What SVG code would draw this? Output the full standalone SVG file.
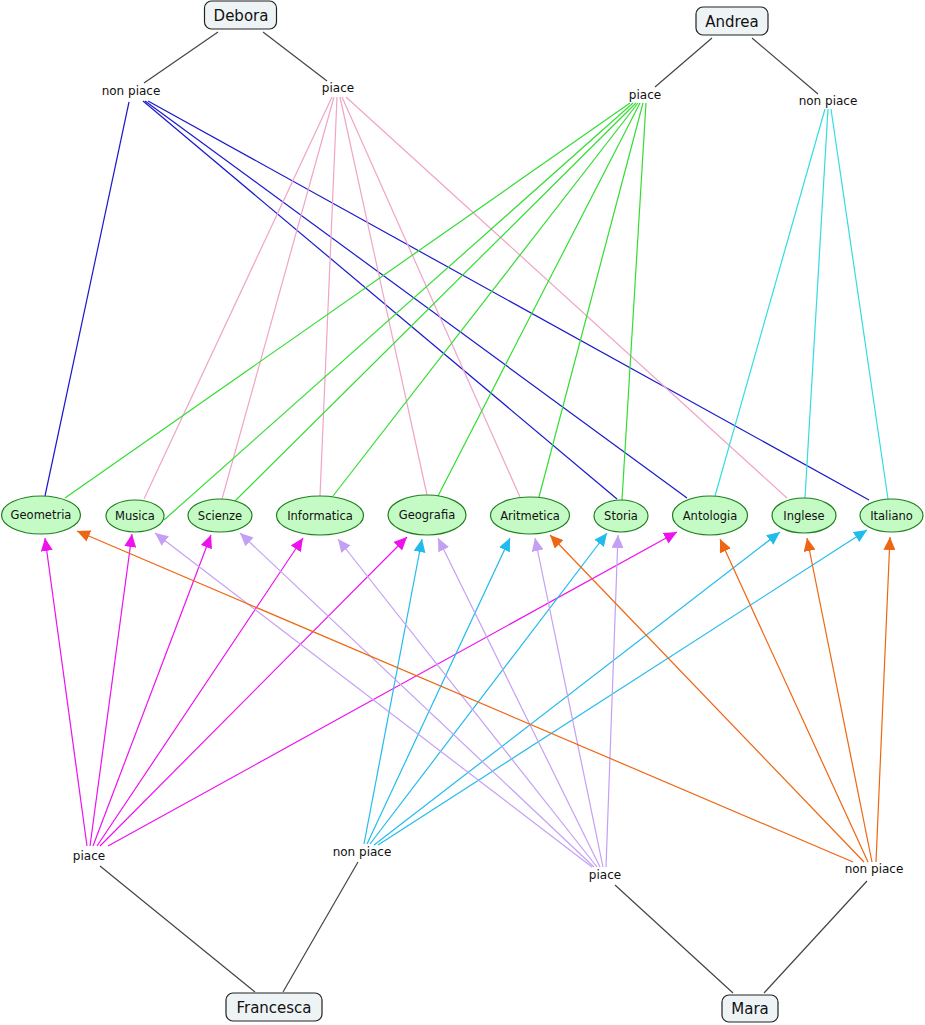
<svg xmlns="http://www.w3.org/2000/svg" width="925" height="1025" viewBox="0 0 925 1025">
<style>
.bg{fill:#ffffff}
.person rect{fill:#eef4f5;stroke:#222;stroke-width:1.2}
.person text{font-family:"DejaVu Sans",Verdana,sans-serif;font-size:15px;fill:#111;text-anchor:middle}
.subj ellipse{fill:#c4fbc4;stroke:#1e7f1e;stroke-width:1.2}
.subj text{font-family:"DejaVu Sans",Verdana,sans-serif;font-size:11.5px;fill:#111;text-anchor:middle}
.lbl text{font-family:"DejaVu Sans",Verdana,sans-serif;font-size:12px;fill:#111;text-anchor:middle}
.k{stroke:#444;stroke-width:1.2;fill:none}
.blue{stroke:#1a1acc;stroke-width:1.2}
.pink{stroke:#f0a4c8;stroke-width:1.2}
.green{stroke:#33dd33;stroke-width:1.2}
.cyt{stroke:#33dde0;stroke-width:1.2}
.mag{stroke:#ee11ee;stroke-width:1.2;marker-end:url(#aMag)}
.cyb{stroke:#22bbee;stroke-width:1.2;marker-end:url(#aCyb)}
.lav{stroke:#c4a0f4;stroke-width:1.2;marker-end:url(#aLav)}
.ora{stroke:#ee6611;stroke-width:1.2;marker-end:url(#aOra)}
</style>
<defs>
<marker id="aMag" markerUnits="userSpaceOnUse" markerWidth="14" markerHeight="12" viewBox="0 0 14 12" refX="13" refY="6" orient="auto"><path d="M0,0 L13,6 L0,12 Z" fill="#ee11ee"/></marker>
<marker id="aCyb" markerUnits="userSpaceOnUse" markerWidth="14" markerHeight="12" viewBox="0 0 14 12" refX="13" refY="6" orient="auto"><path d="M0,0 L13,6 L0,12 Z" fill="#22bbee"/></marker>
<marker id="aLav" markerUnits="userSpaceOnUse" markerWidth="14" markerHeight="12" viewBox="0 0 14 12" refX="13" refY="6" orient="auto"><path d="M0,0 L13,6 L0,12 Z" fill="#c4a0f4"/></marker>
<marker id="aOra" markerUnits="userSpaceOnUse" markerWidth="14" markerHeight="12" viewBox="0 0 14 12" refX="13" refY="6" orient="auto"><path d="M0,0 L13,6 L0,12 Z" fill="#ee6611"/></marker>
</defs>
<rect class="bg" x="0" y="0" width="925" height="1025"/>
<g id="connectors">
<line class="k" x1="218" y1="32" x2="144" y2="83"/>
<line class="k" x1="263" y1="32" x2="327" y2="81"/>
<line class="k" x1="712" y1="38" x2="655" y2="87"/>
<line class="k" x1="752" y1="38" x2="818" y2="94"/>
<line class="k" x1="100" y1="866" x2="255" y2="992"/>
<line class="k" x1="358" y1="862" x2="283" y2="992"/>
<line class="k" x1="615" y1="885" x2="733" y2="993"/>
<line class="k" x1="867" y1="881" x2="764" y2="993"/>
<line class="blue" x1="129" y1="102" x2="45" y2="496"/>
<line class="blue" x1="143" y1="101" x2="617" y2="499"/>
<line class="blue" x1="145" y1="101" x2="687" y2="498"/>
<line class="blue" x1="148" y1="101" x2="869" y2="500"/>
<line class="pink" x1="332" y1="97" x2="144" y2="499"/>
<line class="pink" x1="334" y1="97" x2="222" y2="499"/>
<line class="pink" x1="337" y1="97" x2="320" y2="496"/>
<line class="pink" x1="340" y1="97" x2="427" y2="495"/>
<line class="pink" x1="342" y1="97" x2="520" y2="497"/>
<line class="pink" x1="346" y1="97" x2="787" y2="498"/>
<line class="green" x1="630" y1="103" x2="65" y2="498"/>
<line class="green" x1="633" y1="103" x2="164" y2="520"/>
<line class="green" x1="636" y1="103" x2="235" y2="501"/>
<line class="green" x1="638" y1="103" x2="333" y2="496"/>
<line class="green" x1="640" y1="103" x2="438" y2="496"/>
<line class="green" x1="643" y1="103" x2="539" y2="497"/>
<line class="green" x1="646" y1="103" x2="622" y2="500"/>
<line class="cyt" x1="825" y1="109" x2="715" y2="496"/>
<line class="cyt" x1="828" y1="109" x2="805" y2="498"/>
<line class="cyt" x1="831" y1="109" x2="888" y2="499"/>
<line class="mag" x1="87" y1="846" x2="45" y2="538"/>
<line class="mag" x1="90" y1="846" x2="132" y2="534"/>
<line class="mag" x1="93" y1="846" x2="211" y2="535"/>
<line class="mag" x1="97" y1="846" x2="303" y2="538"/>
<line class="mag" x1="100" y1="846" x2="407" y2="537"/>
<line class="mag" x1="108" y1="846" x2="677" y2="532"/>
<line class="cyb" x1="364" y1="844" x2="422" y2="539"/>
<line class="cyb" x1="367" y1="844" x2="510" y2="538"/>
<line class="cyb" x1="370" y1="844" x2="607" y2="533"/>
<line class="cyb" x1="374" y1="845" x2="780" y2="532"/>
<line class="cyb" x1="378" y1="845" x2="867" y2="530"/>
<line class="lav" x1="592" y1="867" x2="155" y2="533"/>
<line class="lav" x1="594" y1="867" x2="240" y2="533"/>
<line class="lav" x1="597" y1="867" x2="338" y2="539"/>
<line class="lav" x1="600" y1="867" x2="438" y2="538"/>
<line class="lav" x1="603" y1="867" x2="535" y2="538"/>
<line class="lav" x1="606" y1="867" x2="618" y2="535"/>
<line class="ora" x1="853" y1="862" x2="77" y2="531"/>
<line class="ora" x1="864" y1="862" x2="550" y2="535"/>
<line class="ora" x1="868" y1="862" x2="720" y2="539"/>
<line class="ora" x1="872" y1="862" x2="807" y2="538"/>
<line class="ora" x1="876" y1="862" x2="890" y2="537"/>
</g>
<g id="debora" class="person"><rect x="204.5" y="1" width="72" height="28" rx="7"/><text x="241" y="20.5">Debora</text></g>
<g id="andrea" class="person"><rect x="696" y="7" width="72" height="28" rx="7"/><text x="732" y="26.5">Andrea</text></g>
<g id="francesca" class="person"><rect x="226" y="993" width="96" height="28" rx="7"/><text x="274" y="1012.5">Francesca</text></g>
<g id="mara" class="person"><rect x="722" y="995" width="56" height="27" rx="7"/><text x="750" y="1014">Mara</text></g>
<g id="debora-nonpiace" class="lbl"><text x="131" y="95">non piace</text></g>
<g id="debora-piace" class="lbl"><text x="338" y="92">piace</text></g>
<g id="andrea-piace" class="lbl"><text x="645" y="99">piace</text></g>
<g id="andrea-nonpiace" class="lbl"><text x="828" y="105">non piace</text></g>
<g id="francesca-piace" class="lbl"><text x="89" y="860">piace</text></g>
<g id="francesca-nonpiace" class="lbl"><text x="362" y="856">non piace</text></g>
<g id="mara-piace" class="lbl"><text x="605" y="879">piace</text></g>
<g id="mara-nonpiace" class="lbl"><text x="874" y="873">non piace</text></g>
<g id="geometria" class="subj"><ellipse cx="41" cy="515" rx="39.5" ry="19"/><text x="41" y="519">Geometria</text></g>
<g id="musica" class="subj"><ellipse cx="135" cy="516" rx="29" ry="16"/><text x="135" y="520">Musica</text></g>
<g id="scienze" class="subj"><ellipse cx="220" cy="515.5" rx="32" ry="16.5"/><text x="220" y="519.5">Scienze</text></g>
<g id="informatica" class="subj"><ellipse cx="320" cy="515.5" rx="43.5" ry="19.5"/><text x="320" y="519.5">Informatica</text></g>
<g id="geografia" class="subj"><ellipse cx="427" cy="515" rx="39" ry="20"/><text x="427" y="519">Geografia</text></g>
<g id="aritmetica" class="subj"><ellipse cx="530" cy="515.5" rx="39.5" ry="18.5"/><text x="530" y="519.5">Aritmetica</text></g>
<g id="storia" class="subj"><ellipse cx="621" cy="516" rx="27" ry="16"/><text x="621" y="520">Storia</text></g>
<g id="antologia" class="subj"><ellipse cx="710" cy="515.5" rx="37.5" ry="19.5"/><text x="710" y="519.5">Antologia</text></g>
<g id="inglese" class="subj"><ellipse cx="804" cy="515.5" rx="32" ry="17.5"/><text x="804" y="519.5">Inglese</text></g>
<g id="italiano" class="subj"><ellipse cx="891.5" cy="515.5" rx="31.5" ry="16.5"/><text x="891.5" y="519.5">Italiano</text></g>
</svg>
